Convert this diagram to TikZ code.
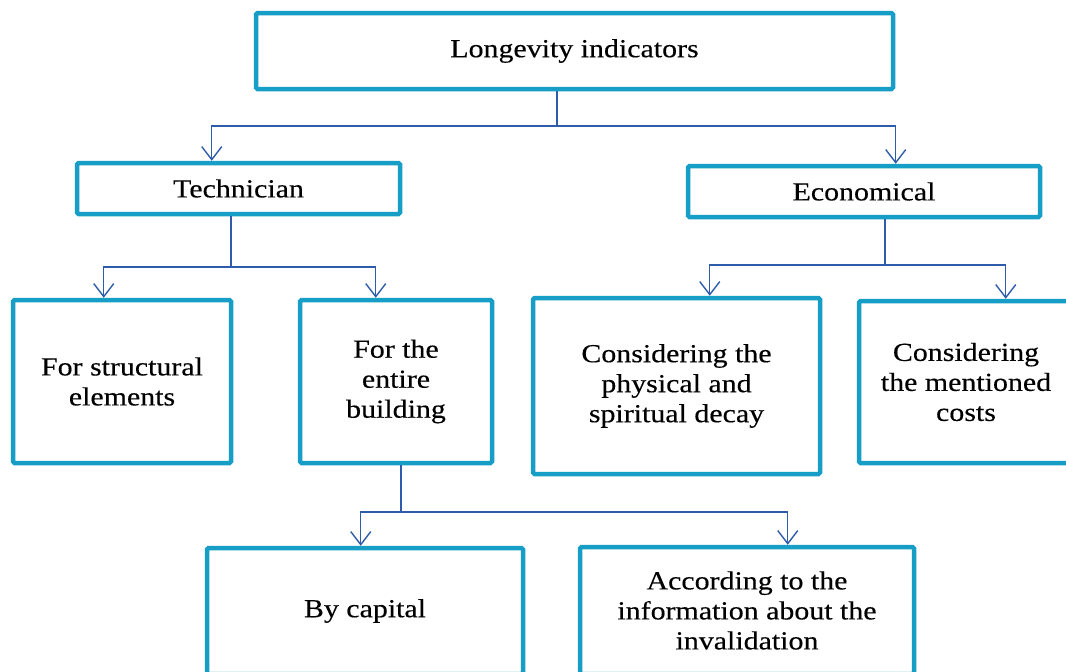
\documentclass[tikz,border=0pt]{standalone}
\usepackage{fontspec}
\setmainfont{Liberation Serif}[FakeStretch=1.15, FakeBold=0.3]
\usetikzlibrary{arrows.meta,positioning,calc}
\definecolor{boxcyan}{RGB}{22,158,198}
\definecolor{linkblue}{RGB}{46,92,170}
\tikzset{
  box/.style={rectangle, rounded corners=1.5pt, draw=boxcyan, line width=4.5pt, fill=white,
              inner sep=0pt, align=center, font=\fontsize{26}{30}\selectfont},
  link/.style={line width=1.4pt, linkblue},
  arrow/.style={link, -{Straight Barb[length=13pt, width=20pt, line width=1.4pt]}},
}

\begin{document}
\begin{tikzpicture}[x=1pt, y=-1pt]
\useasboundingbox (0,0) rectangle (1066,672);
\clip (0,0) rectangle (1066,672);

% levels of the tree
\node[box, minimum width=637pt, minimum height=76pt] (top) at (574.5,51) {Longevity indicators};
\node[box, minimum width=323pt, minimum height=51pt] (tech) at (238.5,188.5) {Technician};
\node[box, minimum width=352pt, minimum height=51pt] (econ) at (864,191.5) {Economical};
\node[box, minimum width=218pt, minimum height=163pt] (struct) at (122,381.5) {For structural\\elements};
\node[box, minimum width=192pt, minimum height=163pt] (whole) at (396,381.5) {For the\\entire\\building};
\node[box, minimum width=287pt, minimum height=176pt] (decay) at (676.5,386) {Considering the\\physical and\\spiritual decay};
\node[box, minimum width=214pt, minimum height=162pt] (costs) at (966,382) {Considering\\the mentioned\\costs};
\node[box, minimum width=316pt, minimum height=126pt] (capital) at (365,611) {By capital};
\node[box, minimum width=334pt, minimum height=127pt] (invalid) at (747,610.5) {According to the\\information about the\\invalidation};

% branch points
\coordinate (j0) at (557,126);
\coordinate (j1) at (231,267);
\coordinate (j2) at (885,265);
\coordinate (j3) at (401,512);

\draw[link] (top.south -| j0) -- (j0);
\draw[arrow] (j0) -| ([xshift=137pt]tech.north west);
\draw[arrow] (j0) -| ([xshift=210pt]econ.north west);

\draw[link] (tech.south -| j1) -- (j1);
\draw[arrow] (j1) -| ([xshift=93pt]struct.north west);
\draw[arrow] (j1) -| ([xshift=78pt]whole.north west);

\draw[link] (econ.south -| j2) -- (j2);
\draw[arrow] (j2) -| ([xshift=179pt]decay.north west);
\draw[arrow] (j2) -| ([xshift=149pt]costs.north west);

\draw[link] (whole.south -| j3) -- (j3);
\draw[arrow] (j3) -| ([xshift=156pt]capital.north west);
\draw[arrow] (j3) -| ([xshift=210pt]invalid.north west);
\end{tikzpicture}
\end{document}
